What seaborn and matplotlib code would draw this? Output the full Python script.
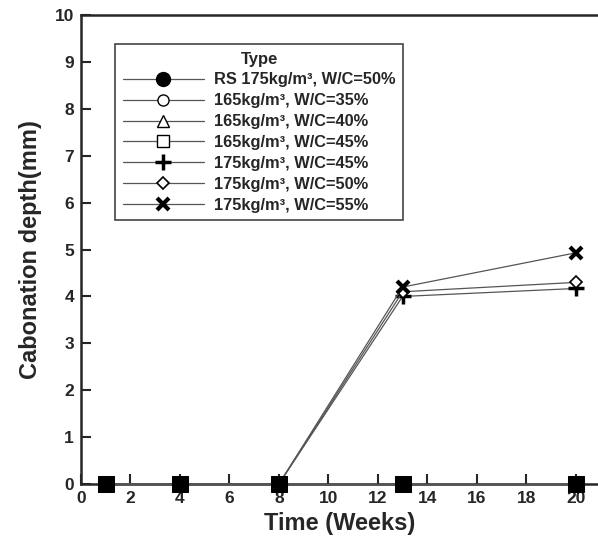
import matplotlib
matplotlib.use("Agg")
import matplotlib.pyplot as plt
from matplotlib.lines import Line2D
import seaborn as sns
import pandas as pd

weeks = [1, 4, 8, 13, 20]
series_names = ["RS 175kg/m³, W/C=50%", "165kg/m³, W/C=35%", "165kg/m³, W/C=40%",
                "165kg/m³, W/C=45%", "175kg/m³, W/C=45%", "175kg/m³, W/C=50%",
                "175kg/m³, W/C=55%"]
rs_175_50 = [0, 0, 0, 0, 0]
s165_35 = [0, 0, 0, 0, 0]
s165_40 = [0, 0, 0, 0, 0]
s165_45 = [0, 0, 0, 0, 0]
s175_45 = [0, 0, 0, 4.0, 4.17]
s175_50 = [0, 0, 0, 4.1, 4.3]
s175_55 = [0, 0, 0, 4.2, 4.93]
all_values = [rs_175_50, s165_35, s165_40, s165_45, s175_45, s175_50, s175_55]

sns.set_style("ticks")
plt.rcParams['font.family'] = ['Liberation Sans', 'DejaVu Sans']
plt.rcParams['font.weight'] = 'bold'

fig = plt.figure(figsize=(5.98, 5.39), dpi=100)
ax = fig.add_axes([0.1355, 0.102, 0.8645, 0.870])

# marker style for legend (m, filled, size, mew)
legend_marks = [("o", True, 10, 1), ("o", False, 8, 1), ("^", False, 8, 1),
                ("s", False, 9, 1), ("+", False, 11, 2.5), ("D", False, 6, 1.2),
                ("x", False, 9, 3)]

df = pd.concat([pd.DataFrame({"week": weeks, "depth": v, "Type": n})
                for n, v in zip(series_names, all_values)])

# lines and markers of the non-RS series
for i, name in enumerate(series_names):
    if i == 0:
        continue
    m, filled, ms, mew = legend_marks[i]
    sub = df[df["Type"] == name]
    sns.lineplot(data=sub, x="week", y="depth", ax=ax, color="#555555", lw=0.9,
                 marker=m, markersize=ms, markeredgewidth=mew,
                 markeredgecolor="black",
                 markerfacecolor="black" if filled else "white",
                 clip_on=False, zorder=3, legend=False)

# RS series drawn as filled squares on the axis
sns.lineplot(data=df[df["Type"] == series_names[0]], x="week", y="depth", ax=ax,
             color="#555555", lw=0.9, marker="s", markersize=11,
             markerfacecolor="black", markeredgecolor="black",
             clip_on=False, zorder=5, legend=False)

ax.set_xlim(0, 20.9)
ax.set_ylim(0, 10)
ax.set_xticks(range(0, 21, 2))
ax.set_yticks(range(0, 11, 1))
ax.tick_params(direction="in", length=7, width=1.5, labelsize=12.5, pad=5)
for lab in ax.get_xticklabels() + ax.get_yticklabels():
    lab.set_fontweight("bold")
for s in ["left", "bottom", "top"]:
    ax.spines[s].set_linewidth(1.8)
ax.spines["right"].set_visible(False)
ax.set_xlabel("Time (Weeks)", fontsize=17, fontweight="bold", labelpad=4)
ax.set_ylabel("Cabonation depth(mm)", fontsize=17, fontweight="bold", labelpad=9)

handles = []
for m, filled, ms, mew in legend_marks:
    handles.append(Line2D([], [], color="#555555", lw=0.9, marker=m, markersize=ms,
                          markeredgewidth=mew, markeredgecolor="black",
                          markerfacecolor="black" if filled else "white"))
leg = ax.legend(handles, series_names, title="Type", loc="upper left",
                bbox_to_anchor=(0.066, 0.938), borderaxespad=0, fancybox=False,
                framealpha=1, edgecolor="#444444", handlelength=5.0,
                borderpad=0.45, labelspacing=0.36, handletextpad=0.6,
                prop={"weight": "bold", "size": 11.8},
                title_fontproperties={"weight": "bold", "size": 12})
leg.get_frame().set_linewidth(1.2)

fig.savefig("out.png", dpi=100)
